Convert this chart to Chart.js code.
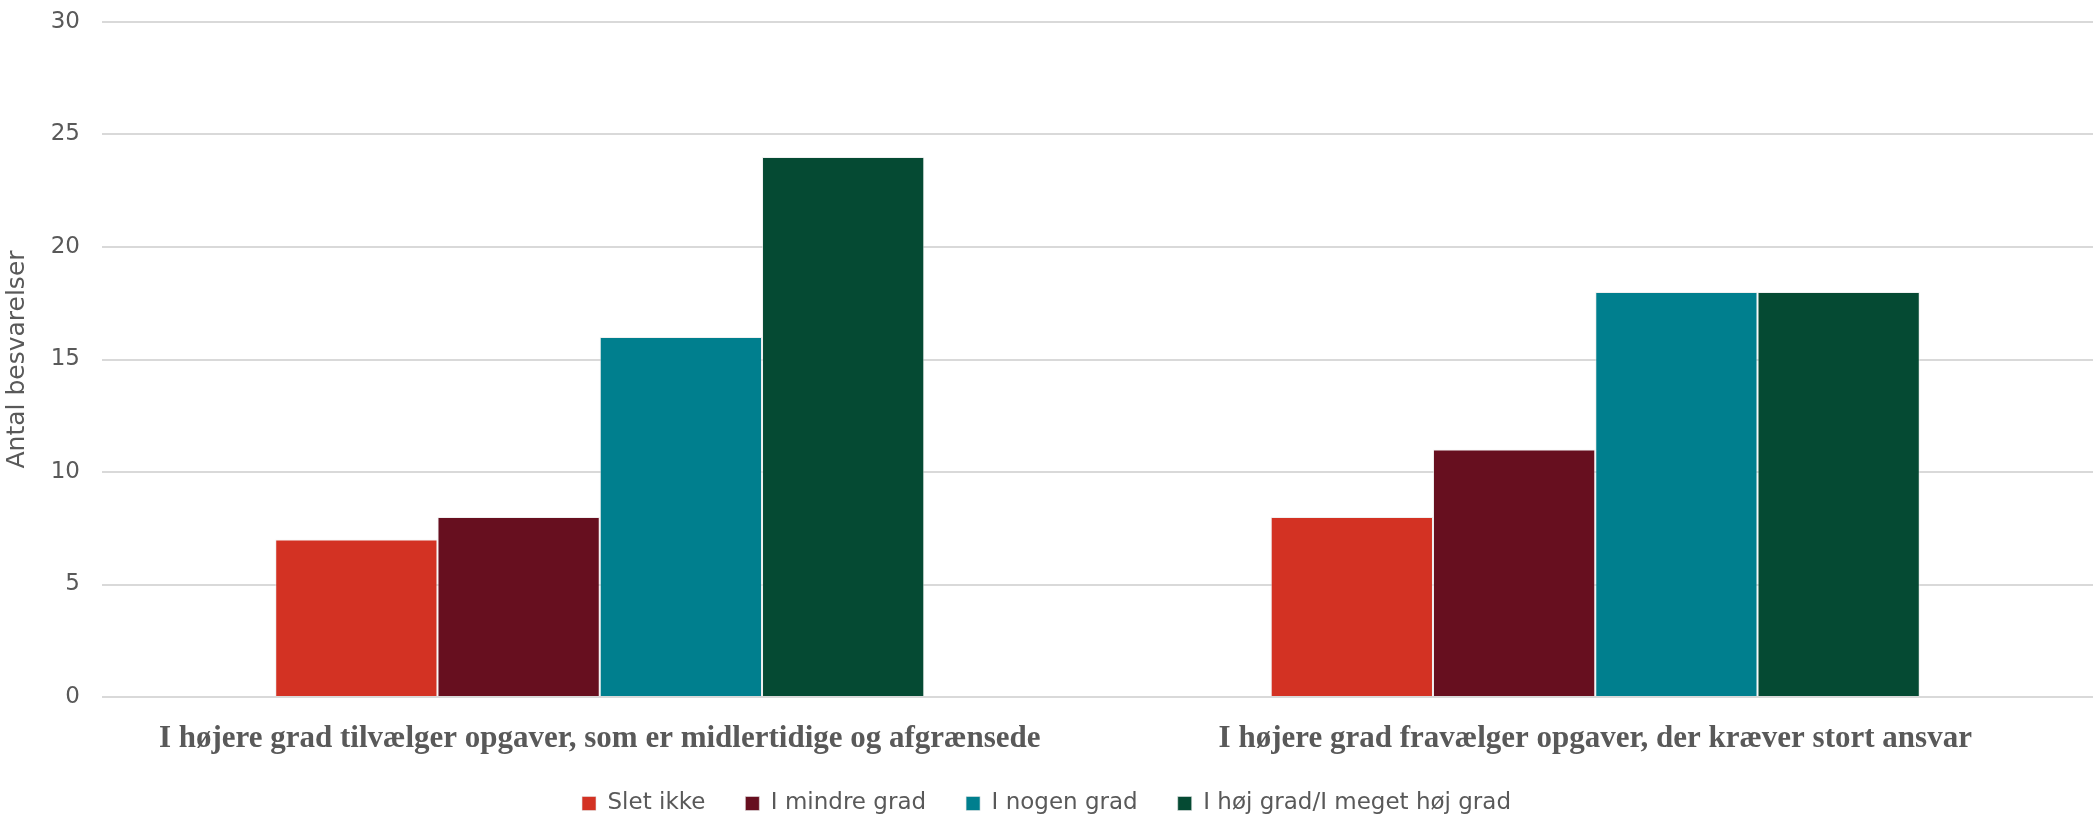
<!DOCTYPE html>
<html>
<head>
<meta charset="utf-8">
<script src="https://cdn.jsdelivr.net/npm/chart.js@4/dist/chart.umd.min.js"></script>
<style>
    html, body { margin: 0; padding: 0; background: #ffffff; }
    #wrap { width: 2095px; height: 815px; position: relative; }
</style>
</head>
<body>
<div id="wrap"><canvas id="chart"></canvas></div>
<script>
const categories = [
    'I højere grad tilvælger opgaver, som er midlertidige og afgrænsede',
    'I højere grad fravælger opgaver, der kræver stort ansvar'
];
const seriesNames = ['Slet ikke', 'I mindre grad', 'I nogen grad', 'I høj grad/I meget høj grad'];
const sletIkke = [7, 8];
const iMindreGrad = [8, 11];
const iNogenGrad = [16, 18];
const iHoejGrad = [24, 18];
const seriesColors = ['#d33223', '#670f1f', '#007f8e', '#054a33'];
const yTicks = [0, 5, 10, 15, 20, 25, 30];

const textGrey = '#595959';
const sansFont = "'DejaVu Sans', 'Open Sans', sans-serif";
const legendFontSize = 23;
const legendPadding = 40;

const datasets = [sletIkke, iMindreGrad, iNogenGrad, iHoejGrad].map((values, i) => ({
    label: seriesNames[i],
    data: values,
    backgroundColor: seriesColors[i],
    borderColor: 'rgba(230, 230, 230, 0.6)',
    borderWidth: 1,
    barPercentage: 1.0,
    categoryPercentage: 0.652
}));

// legend items need wide gaps, but the box itself should stay short so it sits near the bottom
const legendHeightFix = {
    id: 'legendHeightFix',
    beforeLayout(chart) {
        const legend = chart.legend;
        if (!legend || legend._fitPatched) return;
        const origFit = legend.fit.bind(legend);
        legend.fit = function () {
            origFit();
            this.height = 63;
        };
        legend._fitPatched = true;
    }
};

const ctx = document.getElementById('chart').getContext('2d');
new Chart(ctx, {
    type: 'bar',
    data: { labels: categories, datasets: datasets },
    plugins: [legendHeightFix],
    options: {
        responsive: true,
        maintainAspectRatio: false,
        animation: false,
        layout: { padding: { top: 22, right: 2, left: 0, bottom: 0 } },
        plugins: {
            legend: {
                position: 'bottom',
                labels: {
                    color: textGrey,
                    boxWidth: 14,
                    boxHeight: 14,
                    padding: legendPadding,
                    font: { size: legendFontSize, family: sansFont }
                }
            },
            tooltip: { enabled: false }
        },
        scales: {
            x: {
                grid: { display: false, drawTicks: false },
                border: { display: false },
                afterFit: (scale) => {
                    scale.height = 55;
                    // the axis box is short, so don't clip the labels to it
                    scale._computeLabelArea = () => null;
                },
                ticks: {
                    color: textGrey,
                    padding: 23,
                    maxRotation: 0,
                    autoSkip: false,
                    font: { size: 31, weight: 'bold', family: "'Liberation Serif', 'DejaVu Serif', serif" }
                }
            },
            y: {
                min: 0,
                max: 30,
                afterBuildTicks: (scale) => {
                    scale.ticks = yTicks.map(v => ({ value: v }));
                },
                afterFit: (scale) => {
                    scale.width = 102;
                    // tick padding would otherwise push the plot top down
                    scale.paddingTop = 0;
                    scale.paddingBottom = 0;
                },
                grid: { color: '#d9d9d9', lineWidth: 2, drawTicks: false },
                border: { display: false },
                ticks: {
                    color: textGrey,
                    padding: 22,
                    font: { size: 23, family: sansFont }
                },
                title: {
                    display: true,
                    text: 'Antal besvarelser',
                    color: textGrey,
                    padding: { top: 2, bottom: 0 },
                    font: { size: 25, family: sansFont }
                }
            }
        }
    }
});
</script>
</body>
</html>
